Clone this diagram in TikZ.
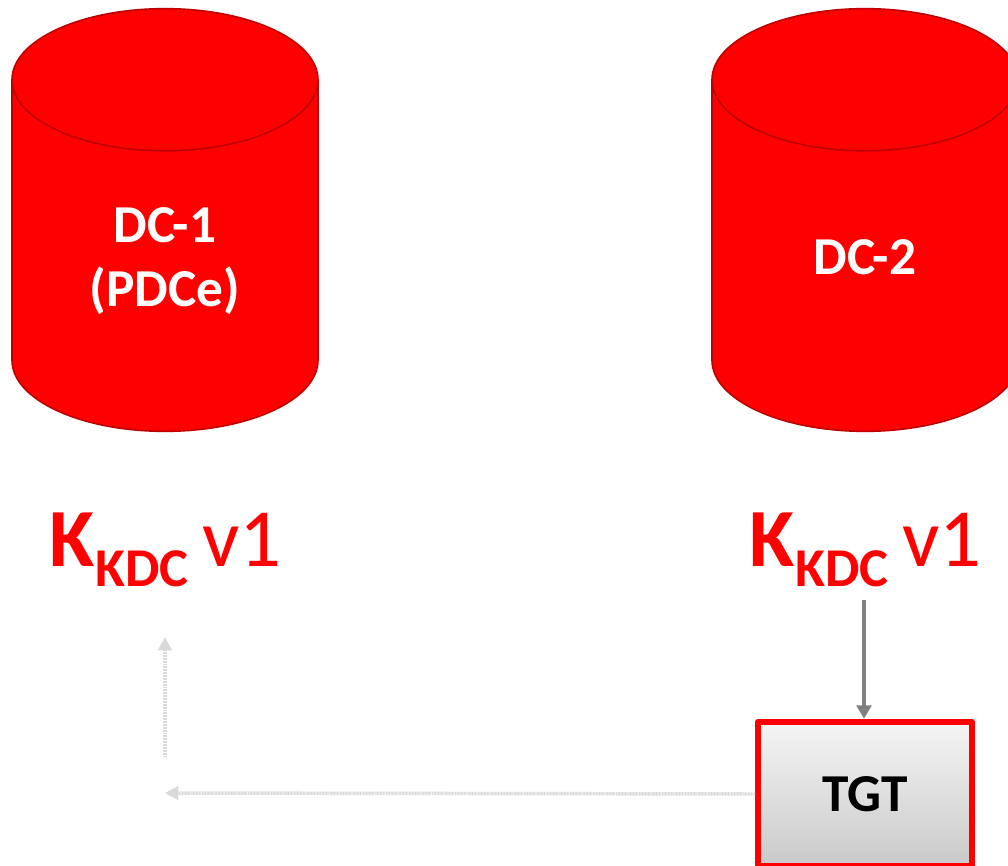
\documentclass[tikz,border=0pt]{standalone}
\usepackage{fontspec}
\setmainfont{Carlito}
\usetikzlibrary{arrows.meta,positioning,shapes.geometric}

\newcommand{\kdckey}{{\fontsize{62}{62}\selectfont\bfseries K}\kern0.5pt\raisebox{-15pt}{\fontsize{41}{41}\selectfont\bfseries KDC}{\fontsize{62}{62}\selectfont\ \kern-3.75pt v1}}

\begin{document}
\begin{tikzpicture}[x=0.75pt,y=-0.75pt]
  \tikzstyle{dbcyl}=[cylinder,shape border rotate=90,aspect=1.39,minimum width=229.5pt,minimum height=317pt,
                     anchor=shape center,draw=red!75!black,line width=1.2pt,fill=red,inner sep=0pt,
                     font=\fontsize{40}{47}\selectfont\bfseries]
  \tikzstyle{dbtext}=[text=white,align=center,inner sep=0pt,font=\fontsize{40}{48}\selectfont\bfseries]
  \tikzstyle{keylabel}=[text=red,inner sep=0pt,anchor=base]
  \tikzstyle{tgtbox}=[draw=red,line width=4.5pt,line join=round,top color=gray!8,bottom color=gray!42,
                      minimum width=160.5pt,minimum height=108.4pt,inner sep=0pt,
                      font=\fontsize{40}{40}\selectfont\bfseries]
  \tikzstyle{faded}=[-{Triangle[length=10pt,width=10pt]},gray!30,line width=2.6pt,dash pattern=on 0.75pt off 0.4pt]
  \useasboundingbox (0,0) rectangle (1008,866);

  \node[dbcyl] (dcone) at (165,220) {\phantom{DC-2}};
  \node[dbcyl] (dctwo) at (865,220) {\phantom{DC-2}};
  \node[dbtext] (dconetext) at (165,261) {DC-1\\(PDCe)};
  \node[dbtext] (dctwotext) at (865,257) {DC-2};
  \node[keylabel] (kdcone) at (165.5,566.6) {\kdckey};
  \node[keylabel] (kdctwo) at (865.5,566.6) {\kdckey};
  \node[tgtbox] (tgt) at (865,794) {TGT};

  \coordinate (upstart) at (165,757);
  \coordinate (upend) at (165,637);
  \coordinate (leftend) at (165,793);
  \coordinate (keyfoot) at (864,600);

  \draw[-{Triangle[length=10pt,width=11pt]},gray,line width=3pt] (keyfoot) -- (keyfoot |- tgt.north);
  \draw[faded] (upstart) -- (upend);
  \draw[faded] (tgt.west) -- (leftend);
\end{tikzpicture}
\end{document}
